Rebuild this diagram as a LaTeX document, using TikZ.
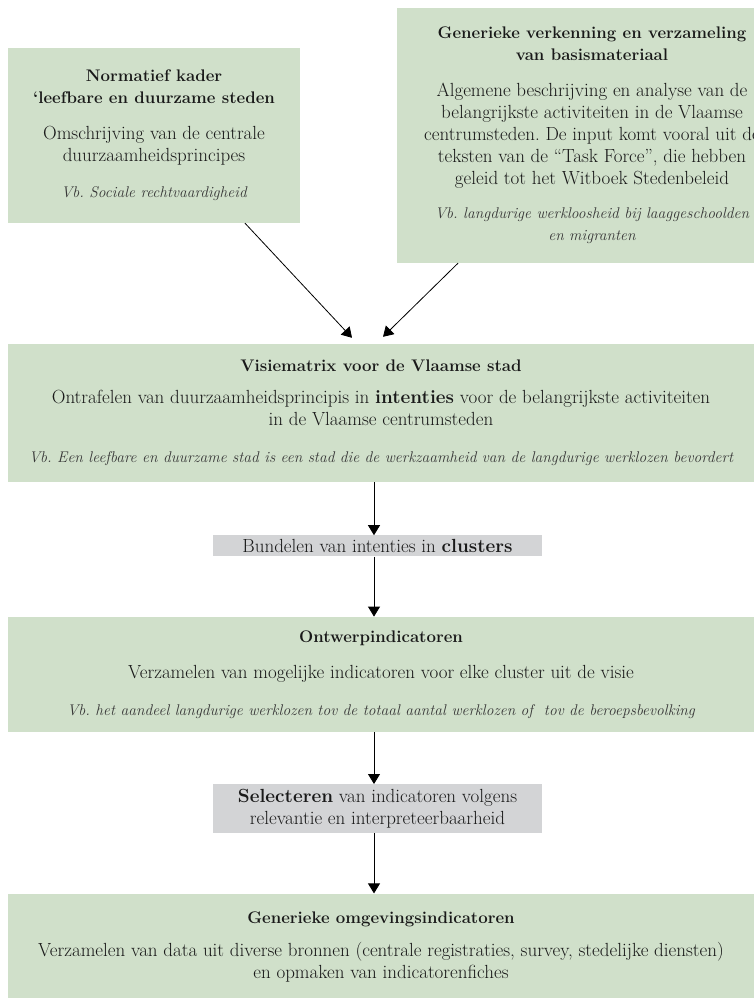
\documentclass[tikz,border=0pt]{standalone}
\usepackage{xcolor}
\usepackage{tikz}
\usetikzlibrary{arrows.meta, positioning}
\definecolor{sagegreen}{RGB}{208,224,202}
\definecolor{boxgray}{RGB}{211,212,214}
\definecolor{inkgray}{RGB}{25,25,25}
\definecolor{vbgray}{RGB}{55,55,55}
\newcommand{\bodyfont}{\fontsize{19}{22}\selectfont}
\newcommand{\hdtext}[1]{{\fontsize{16.8}{22}\selectfont\bfseries #1}}
\newcommand{\vbtext}[1]{{\fontsize{15.5}{22}\selectfont\itshape\color{vbgray}#1}}
\frenchspacing

\begin{document}
\begin{tikzpicture}[
    x=1pt, y=-1pt,
    node distance=53pt,
    box/.style={rectangle, fill=sagegreen, inner sep=0pt, align=center,
                text=inkgray, font=\bodyfont},
    gbox/.style={rectangle, fill=boxgray, inner sep=0pt, align=center,
                 text=inkgray, minimum width=329pt, font=\bodyfont},
    arr/.style={-{Triangle[width=12pt,length=10pt]}, line width=0.8pt},
]
\useasboundingbox (0,0) rectangle (754,998);
\clip (0,0) rectangle (754,998);

\node[box, minimum width=292pt, minimum height=175pt] (norm) at (154,135.5)
  {\hdtext{Normatief kader}\\ \hdtext{`leefbare en duurzame steden}\\[14pt]
   Omschrijving van de centrale\\ duurzaamheidsprincipes\\[14pt]
   \vbtext{Vb. Sociale rechtvaardigheid}};

\node[box, minimum width=390pt, minimum height=255pt] (verk) at (592,135.5)
  {\hdtext{Generieke verkenning en verzameling}\\ \hdtext{van basismateriaal}\\[14pt]
   Algemene beschrijving en analyse van de\\ belangrijkste activiteiten in de Vlaamse\\
   centrumsteden. De input komt vooral uit de\\ teksten van de ``Task Force'', die hebben\\
   geleid tot het Witboek Stedenbeleid\\[12pt]
   \vbtext{Vb. langdurige werkloosheid bij laaggeschoolden}\\ \vbtext{en migranten}};

\node[box, minimum width=746pt, minimum height=138pt] (visie) at (381,413)
  {\hdtext{Visiematrix voor de Vlaamse stad}\\[10pt]
   Ontrafelen van duurzaamheidsprincipis in \textbf{intenties} voor de belangrijkste activiteiten\\
   in de Vlaamse centrumsteden\\[15pt]
   \vbtext{Vb. Een leefbare en duurzame stad is een stad die de werkzaamheid van de langdurige werklozen bevordert}};

\node[gbox, minimum height=21pt, below=53pt of visie, xshift=-3.5pt] (bundel)
  {Bundelen van intenties in \textbf{clusters}};

\node[box, minimum width=746pt, minimum height=115pt, below=60pt of bundel, xshift=3.5pt] (ontw)
  {\hdtext{Ontwerpindicatoren}\\[14pt]
   Verzamelen van mogelijke indicatoren voor elke cluster uit de visie\\[15pt]
   \vbtext{Vb. het aandeel langdurige werklozen tov de totaal aantal werklozen of\ \ tov de beroepsbevolking}};

\node[gbox, minimum height=49pt, below=52pt of ontw, xshift=-3.5pt] (select)
  {\textbf{Selecteren} van indicatoren volgens\\ relevantie en interpreteerbaarheid};

\node[box, minimum width=746pt, minimum height=106pt, below=60pt of select, xshift=3.5pt] (omgev)
  {\hdtext{Generieke omgevingsindicatoren}\\[11pt]
   Verzamelen van data uit diverse bronnen (centrale registraties, survey, stedelijke diensten)\\
   en opmaken van indicatorenfiches};

\draw[arr] ([xshift=91pt]norm.south) -- ([xshift=-29pt,yshift=6pt]visie.north);
\draw[arr] ([xshift=-134pt]verk.south) -- ([xshift=2pt,yshift=7pt]visie.north);
\draw[arr] ([xshift=-7pt]visie.south) -- ([xshift=-3.5pt]bundel.north);
\draw[arr] ([xshift=-3.5pt]bundel.south) -- ([xshift=-7pt]ontw.north);
\draw[arr] ([xshift=-7pt]ontw.south) -- ([xshift=-3.5pt]select.north);
\draw[arr] ([xshift=-3.5pt]select.south) -- ([xshift=-7pt]omgev.north);

\end{tikzpicture}
\end{document}
